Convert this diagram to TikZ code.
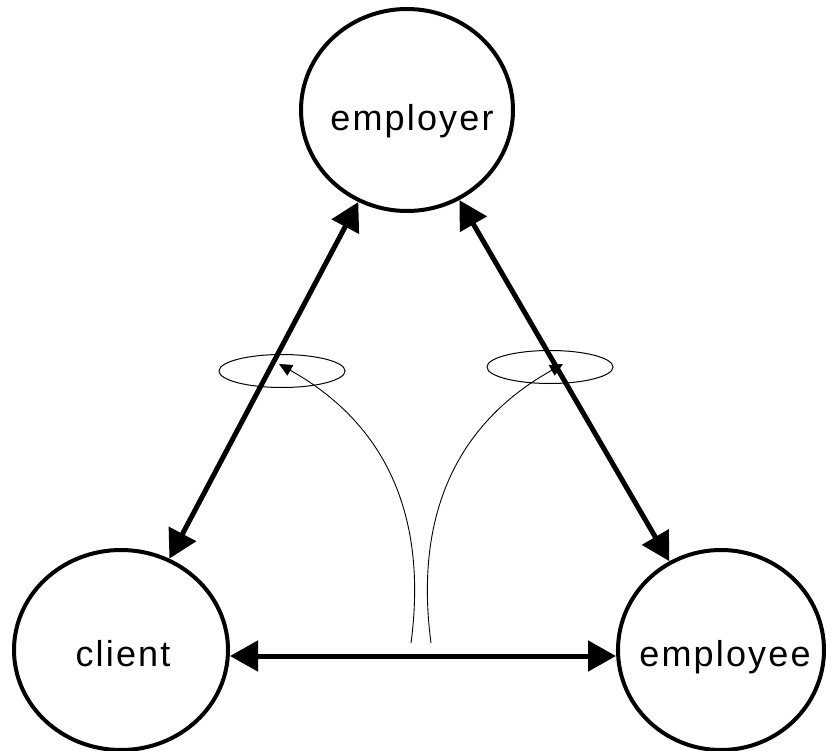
\documentclass[tikz,border=0pt]{standalone}
\usepackage{fontspec}
\setmainfont{Liberation Sans}[LetterSpace=6]
\usetikzlibrary{arrows.meta,shapes.geometric}

\tikzset{
  party/.style={draw, ellipse, line width=4pt, inner sep=0pt},
  partylabel/.style={anchor=base, inner sep=0pt, font=\fontsize{36}{40}\selectfont},
  relation/.style={line width=5pt, {Triangle[length=28pt,width=30pt]}-{Triangle[length=28pt,width=30pt]}},
  loopring/.style={draw, ellipse, line width=1pt, inner sep=0pt, minimum width=126pt, minimum height=33pt},
  influence/.style={line width=0.9pt, -{Triangle[length=13pt,width=12pt]}}
}

\begin{document}
\begin{tikzpicture}[x=1pt, y=-1pt]
  \useasboundingbox (0,0) rectangle (826,751);

  % the three parties
  \node[party, minimum width=212pt, minimum height=202pt] (employer) at (407,110) {};
  \node[party, minimum width=214pt, minimum height=200pt] (client) at (121,650) {};
  \node[party, minimum width=206pt, minimum height=200pt] (employee) at (721,650) {};

  \node[partylabel] (employerText) at (412,131) {employer};
  \node[partylabel] (clientText) at (123,666) {client};
  \node[partylabel] (employeeText) at (725,666) {employee};

  % rings around the two upper relations
  \node[loopring] (ringL) at (282,371) {};
  \node[loopring] (ringR) at (550,367) {};

  % two-way relations between the parties
  \draw[relation] (client) -- (employer);
  \draw[relation] (employee) -- (employer);
  \draw[relation] ([yshift=-6pt]client.east) -- ([yshift=-6pt]employee.west);

  % influence of the lower relation on the upper ones
  \coordinate (srcL) at (411,643);
  \coordinate (srcR) at (431,643);
  \coordinate (tipL) at (279,364);
  \coordinate (tipR) at (563,364);
  \draw[influence] (srcL) .. controls (422,560) and (415,440) .. (tipL);
  \draw[influence] (srcR) .. controls (420,560) and (427,440) .. (tipR);
\end{tikzpicture}
\end{document}
